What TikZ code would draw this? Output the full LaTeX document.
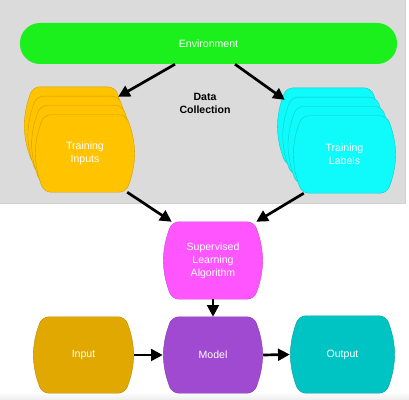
\documentclass[tikz,border=0pt]{standalone}
\usepackage{fontspec}
\setmainfont{Liberation Sans}
\usetikzlibrary{arrows.meta,calc,backgrounds}
\definecolor{bggrey}{HTML}{DBDBDB}
\definecolor{green1}{HTML}{1CF01C}
\definecolor{yellow1}{HTML}{FFC300}
\definecolor{cyan1}{HTML}{0FFAFA}
\definecolor{magenta1}{HTML}{FF55FF}
\definecolor{gold1}{HTML}{E0A800}
\definecolor{purple1}{HTML}{A04AD2}
\definecolor{teal1}{HTML}{00C4C4}
% barrel outline round a named node: flat top and bottom, bulging sides
\newcommand{\barrel}[2]{%
  \filldraw[fill=#2, draw=#2!80!black, line width=0.3pt, rounded corners=6pt]
    (#1.north) -- ($(#1.north east)+(-9,0)$) -- ($(#1.north east)!0.25!(#1.south east)+(-2.5,0)$)
    -- (#1.east) -- ($(#1.north east)!0.75!(#1.south east)+(-2.5,0)$) -- ($(#1.south east)+(-9,0)$)
    -- ($(#1.south west)+(9,0)$) -- ($(#1.north west)!0.75!(#1.south west)+(2.5,0)$)
    -- (#1.west) -- ($(#1.north west)!0.25!(#1.south west)+(2.5,0)$) -- ($(#1.north west)+(9,0)$) -- cycle;}

\begin{document}
\begin{tikzpicture}[x=0.03cm,y=0.03cm,font=\fontsize{9}{11}\selectfont,
  card/.style={minimum width=3cm,minimum height=2.31cm,inner sep=0pt,text=white,align=center},
  flow/.style={-{Triangle[length=10pt,width=10pt]},line width=2.3pt,black}]
  \useasboundingbox (0,0) rectangle (409,400);
  % top: collecting the data
  \node[fill=green1,rounded corners=0.6cm,minimum width=11.31cm,minimum height=1.23cm,text=white] (env) at (208.5,356.5) {Environment};
  \foreach \k in {3,2,1} \node[card] (inputs\k) at ({85-3.7*\k},{246.5+9.3*\k}) {};
  \node[card] (inputs) at (85,246.5) {Training\\Inputs};
  \foreach \k in {3,2,1} \node[card,minimum width=3.09cm] (labels\k) at ({344.5-5.3*\k},{245.5+9.3*\k}) {};
  \node[card,minimum width=3.09cm] (labels) at (344.5,245.5) {Training\\Labels};
  \node[font=\fontsize{9}{11}\selectfont\bfseries,align=center] (collect) at (205,297) {Data\\Collection};
  % bottom: learning and using the model
  \node[card] (sla) at (213,139.5) {Supervised\\Learning\\Algorithm};
  \node[card,minimum width=3.03cm,minimum height=2.28cm] (input) at (83.5,45) {Input};
  \node[card,minimum height=2.28cm] (model) at (213,45) {Model};
  \node[card,minimum width=3.15cm] (output) at (342.5,45.5) {Output};
  \begin{scope}[on background layer]
    \fill[bggrey] (0,197) rectangle (405,400);
    \draw[black!18] (0,197) -- (405,197) -- (405,400);
    \shade[top color=white,bottom color=black!7] (0,0) rectangle (409,8);
    \foreach \k in {3,2,1} \barrel{inputs\k}{yellow1};
    \barrel{inputs}{yellow1};
    \foreach \k in {3,2,1} \barrel{labels\k}{cyan1};
    \barrel{labels}{cyan1};
    \barrel{sla}{magenta1}
    \barrel{input}{gold1}
    \barrel{model}{purple1}
    \barrel{output}{teal1}
  \end{scope}
  \draw[flow] ($(env.south)+(-33.5,0)$) -- ($(inputs3.north east)+(-6,-10)$);
  \draw[flow] ($(env.south)+(26.5,0)$) -- ($(labels3.north west)+(8,-12)$);
  \draw[flow] ($(inputs.south east)+(-8,0)$) -- ($(sla.north west)+(9,0)$);
  \draw[flow] ($(labels.south west)+(11,0)$) -- ($(sla.north east)+(-7,0)$);
  \draw[flow] (sla.south) -- (model.north);
  \draw[flow] (input.east) -- (model.west);
  \draw[flow] (model.east) -- (output.west);
\end{tikzpicture}
\end{document}
